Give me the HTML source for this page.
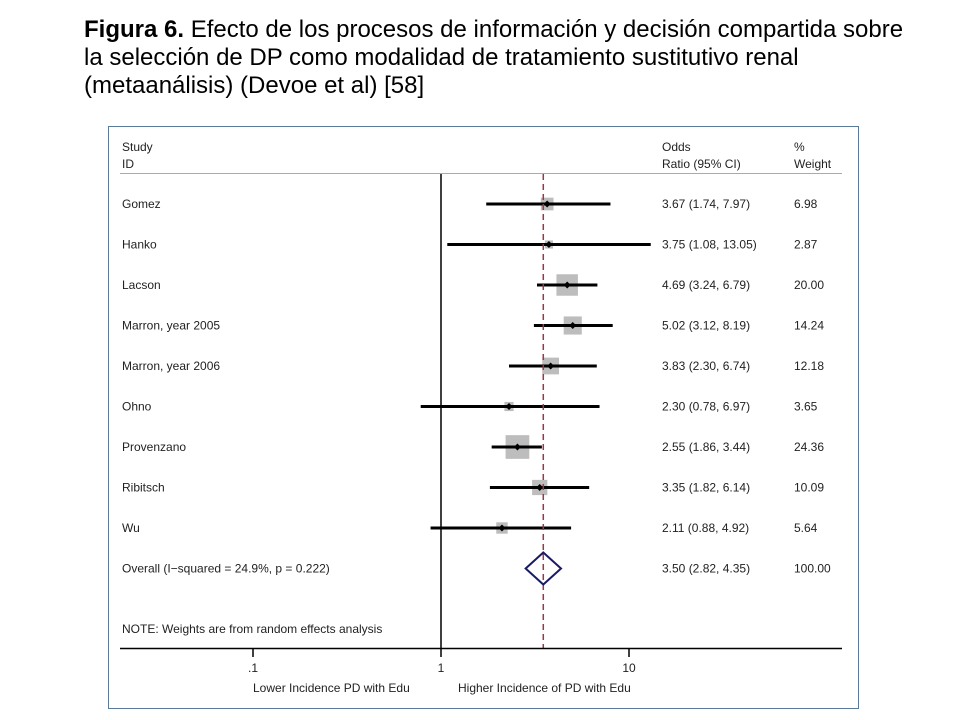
<!DOCTYPE html>
<html><head><meta charset="utf-8"><style>
body{margin:0;background:#fff;width:960px;height:720px;overflow:hidden;font-family:"Liberation Sans",sans-serif}
#title{position:absolute;left:84px;top:16px;font-size:24px;line-height:28px;color:#000;width:870px;white-space:nowrap}
svg{position:absolute;left:0;top:0}
svg text{font-family:"Liberation Sans",sans-serif;font-size:12px;fill:#222}
</style></head><body>
<div id="title"><b>Figura 6.</b> Efecto de los procesos de información y decisión compartida sobre<br>la selección de DP como modalidad de tratamiento sustitutivo renal<br>(metaanálisis) (Devoe et al) [58]</div>
<svg id="chart" width="960" height="720">
<rect x="108.5" y="126.5" width="750" height="582" fill="none" stroke="#5a7a99" stroke-width="1"/>
<text x="122" y="151">Study</text>
<text x="122" y="168">ID</text>
<text x="662" y="151">Odds</text>
<text x="662" y="168">Ratio (95% CI)</text>
<text x="794" y="151">%</text>
<text x="794" y="168">Weight</text>
<line x1="120" y1="173.5" x2="842" y2="173.5" stroke="#aaa" stroke-width="1"/>
<g id="marks"></g>
<text x="122" y="633">NOTE: Weights are from random effects analysis</text>
<line x1="120" y1="648.5" x2="842" y2="648.5" stroke="#000" stroke-width="1.5"/>
<text x="253" y="692">Lower Incidence PD with Edu</text>
<text x="458" y="692">Higher Incidence of PD with Edu</text>
</svg>
<script>
const studies=["Gomez","Hanko","Lacson","Marron, year 2005","Marron, year 2006","Ohno","Provenzano","Ribitsch","Wu"];
const orVals=[3.67,3.75,4.69,5.02,3.83,2.30,2.55,3.35,2.11];
const ciLow=[1.74,1.08,3.24,3.12,2.30,0.78,1.86,1.82,0.88];
const ciHigh=[7.97,13.05,6.79,8.19,6.74,6.97,3.44,6.14,4.92];
const weights=[6.98,2.87,20.00,14.24,12.18,3.65,24.36,10.09,5.64];
const overall=[3.50,2.82,4.35];
const overallLabel="Overall  (I\u2212squared = 24.9%, p = 0.222)";
const ticks=[0.1,1,10];
const tickLabels=[".1","1","10"];
const NS="http://www.w3.org/2000/svg";
const xs=v=>441+188*Math.log10(v);
const rowY=i=>204+40.5*i;
const g=document.getElementById('marks');
function mk(t,a){const e=document.createElementNS(NS,t);for(const k in a)e.setAttribute(k,a[k]);g.appendChild(e);return e;}
const yTop=174,yBot=648;
let nl=mk('line',{x1:xs(1),y1:yTop,x2:xs(1),y2:yBot,stroke:'#000','stroke-width':1.5});


const fmt=v=>v.toFixed(2);
studies.forEach((s,i)=>{
  const y=rowY(i);
  let t=mk('text',{x:122,y:y+4});t.textContent=s;
  
  
  const side=4.8*Math.sqrt(weights[i]);
  let b=mk('rect',{x:xs(orVals[i])-side/2,y:y-side/2,width:side,height:side,fill:'#bdbdbd'});
  
  
  let l=mk('line',{x1:xs(ciLow[i]),y1:y,x2:xs(ciHigh[i]),y2:y,stroke:'#000','stroke-width':3});
  
  
  const px=xs(orVals[i]);
  let d=mk('polygon',{points:`${px-3.5},${y} ${px},${y-3.5} ${px+3.5},${y} ${px},${y+3.5}`,fill:'#000'});
  
  
  let o=mk('text',{x:662,y:y+4});o.textContent=`${fmt(orVals[i])} (${fmt(ciLow[i])}, ${fmt(ciHigh[i])})`;
  
  
  let w=mk('text',{x:794,y:y+4});w.textContent=fmt(weights[i]);
  
  
});
let dl=mk('line',{x1:xs(overall[0]),y1:yTop,x2:xs(overall[0]),y2:yBot,stroke:'#9b3a45','stroke-width':1.5,'stroke-dasharray':'6,4'});


const oy=rowY(studies.length);
let dm=mk('polygon',{points:`${xs(overall[1])},${oy} ${xs(overall[0])},${oy-16} ${xs(overall[2])},${oy} ${xs(overall[0])},${oy+16}`,fill:'none',stroke:'#1a1a66','stroke-width':2});


let ol=mk('text',{x:122,y:oy+4});ol.textContent=overallLabel;


let ov=mk('text',{x:662,y:oy+4});ov.textContent=`${fmt(overall[0])} (${fmt(overall[1])}, ${fmt(overall[2])})`;


let ow=mk('text',{x:794,y:oy+4});ow.textContent="100.00";


ticks.forEach((v,i)=>{
  let tk=mk('line',{x1:xs(v),y1:648,x2:xs(v),y2:657,stroke:'#000','stroke-width':1.5});
  
  
  let tl=mk('text',{x:xs(v),y:672,'text-anchor':'middle'});tl.textContent=tickLabels[i];
  
  
});
</script>
</body></html>
